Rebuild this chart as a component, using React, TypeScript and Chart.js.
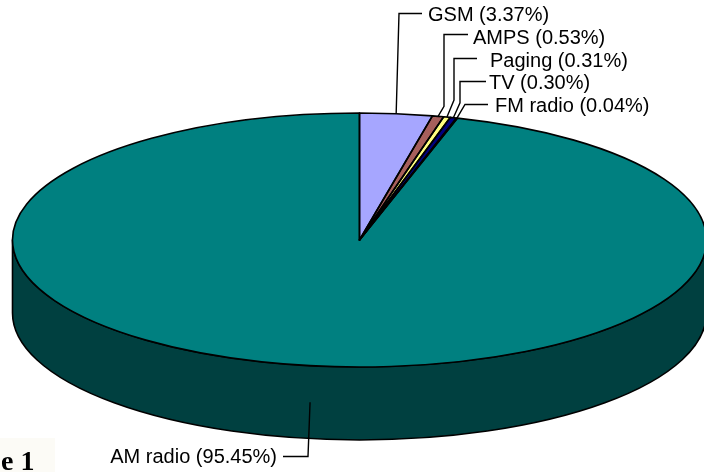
import React, { useEffect, useRef } from "react";
import { Chart, registerables } from "chart.js";

Chart.register(...registerables);

// ---- data ----
const categories = ["GSM", "AMPS", "Paging", "TV", "FM radio", "AM radio"];
const shares = [3.37, 0.53, 0.31, 0.3, 0.04, 95.45];
const topColors = ["#a6a6ff", "#a65f5b", "#ffff80", "#000080", "#800080", "#008080"];
const sideColors = ["#535380", "#53302e", "#808040", "#000040", "#400040", "#004040"];
const figureCaption = "e 1";

// ---- 3D projection of the pie (presentation) ----
const CX = 359.5;
const CY = 240;
const RX = 347;
const RY = 127;
const DEPTH = 73;

// ---- label layout (presentation) ----
type LabelLayout = {
  rise: number;
  elbowX: number;
  lineY: number;
  lineEndX: number;
  textX: number;
  textY: number;
  align: CanvasTextAlign;
  onSide: boolean;
};
const labelLayout: LabelLayout[] = [
  { rise: 0, elbowX: 399, lineY: 13.5, lineEndX: 422, textX: 428, textY: 15, align: "left", onSide: false },
  { rise: 10, elbowX: 444, lineY: 34.5, lineEndX: 468, textX: 473, textY: 38, align: "left", onSide: false },
  { rise: 17, elbowX: 454, lineY: 58.5, lineEndX: 477, textX: 490, textY: 61, align: "left", onSide: false },
  { rise: 15, elbowX: 460, lineY: 81.5, lineEndX: 486, textX: 489, textY: 83.5, align: "left", onSide: false },
  { rise: 0, elbowX: 465, lineY: 104.5, lineEndX: 488, textX: 495, textY: 106.5, align: "left", onSide: false },
  { rise: 0, elbowX: 308, lineY: 456.5, lineEndX: 283, textX: 277, textY: 457, align: "right", onSide: true },
];

function applyTop(ctx: CanvasRenderingContext2D, el: any) {
  const r = el.outerRadius;
  ctx.translate(CX, CY);
  ctx.scale(RX / r, RY / r);
  ctx.translate(-el.x, -el.y);
}

const pie3d = {
  id: "pie3d",
  beforeDraw(chart: any) {
    const ctx: CanvasRenderingContext2D = chart.ctx;
    ctx.save();
    ctx.fillStyle = "#ffffff";
    ctx.fillRect(0, 0, chart.width, chart.height);
    ctx.fillStyle = "#fcfbf6";
    ctx.fillRect(0, 438, 55, 40);
    ctx.fillStyle = "#000000";
    ctx.font = 'bold 28px "Liberation Serif", "Times New Roman", serif';
    ctx.textAlign = "left";
    ctx.textBaseline = "alphabetic";
    ctx.fillText(figureCaption, 1, 470);
    ctx.restore();
  },
  beforeDatasetsDraw(chart: any) {
    const ctx: CanvasRenderingContext2D = chart.ctx;
    const meta = chart.getDatasetMeta(0);
    ctx.save();
    meta.data.forEach((el: any, i: number) => {
      const a = Math.max(el.startAngle, 0);
      const b = Math.min(el.endAngle, Math.PI);
      if (b <= a) return;
      ctx.beginPath();
      ctx.ellipse(CX, CY, RX, RY, 0, a, b);
      ctx.ellipse(CX, CY + DEPTH, RX, RY, 0, b, a, true);
      ctx.closePath();
      ctx.fillStyle = sideColors[i];
      ctx.fill();
      ctx.lineWidth = 1.6;
      ctx.lineJoin = "round";
      ctx.strokeStyle = "#000000";
      ctx.stroke();
    });
    ctx.restore();
    // squash the library-drawn pie onto the top ellipse
    ctx.save();
    const first = meta.data[0];
    if (first) applyTop(ctx, first);
  },
  afterDatasetsDraw(chart: any) {
    const ctx: CanvasRenderingContext2D = chart.ctx;
    ctx.restore();
    const meta = chart.getDatasetMeta(0);
    // slice outlines with uniform line width
    meta.data.forEach((el: any) => {
      ctx.save();
      applyTop(ctx, el);
      ctx.beginPath();
      ctx.moveTo(el.x, el.y);
      ctx.arc(el.x, el.y, el.outerRadius, el.startAngle, el.endAngle);
      ctx.closePath();
      ctx.restore();
      ctx.save();
      ctx.lineWidth = 1.6;
      ctx.lineJoin = "round";
      ctx.strokeStyle = "#000000";
      ctx.stroke();
      ctx.restore();
    });
    // labels with leader lines
    ctx.save();
    ctx.font = '20px "Liberation Sans", Arial, sans-serif';
    ctx.fillStyle = "#000000";
    ctx.strokeStyle = "#000000";
    ctx.lineWidth = 1.4;
    ctx.lineJoin = "miter";
    meta.data.forEach((el: any, i: number) => {
      const lay = labelLayout[i];
      const mid = (el.startAngle + el.endAngle) / 2;
      const ax = CX + RX * Math.cos(mid);
      const ay = CY + RY * Math.sin(mid) + (lay.onSide ? DEPTH / 2 : 0);
      ctx.beginPath();
      ctx.moveTo(ax, ay);
      if (lay.rise > 0) ctx.lineTo(lay.elbowX, ay - lay.rise);
      ctx.lineTo(lay.elbowX, lay.lineY);
      ctx.lineTo(lay.lineEndX, lay.lineY);
      ctx.stroke();
      ctx.textAlign = lay.align;
      ctx.textBaseline = "middle";
      ctx.fillText(`${categories[i]} (${shares[i].toFixed(2)}%)`, lay.textX, lay.textY);
    });
    ctx.restore();
  },
};

export default function App() {
  const canvasRef = useRef<HTMLCanvasElement | null>(null);

  useEffect(() => {
    const canvas = canvasRef.current;
    if (!canvas) return;
    const chart = new Chart(canvas, {
      type: "pie",
      data: {
        labels: categories,
        datasets: [
          {
            data: shares,
            backgroundColor: topColors,
            borderWidth: 0,
            clip: false as any,
          } as any,
        ],
      },
      options: {
        responsive: false,
        animation: false,
        events: [],
        layout: { padding: 0 },
        plugins: {
          legend: { display: false },
          tooltip: { enabled: false },
        },
      },
      plugins: [pie3d as any],
    });
    return () => chart.destroy();
  }, []);

  return (
    <div style={{ position: "fixed", left: 0, top: 0, width: 704, height: 472, background: "#fff" }}>
      <canvas ref={canvasRef} width={704} height={472} style={{ display: "block" }} />
    </div>
  );
}
